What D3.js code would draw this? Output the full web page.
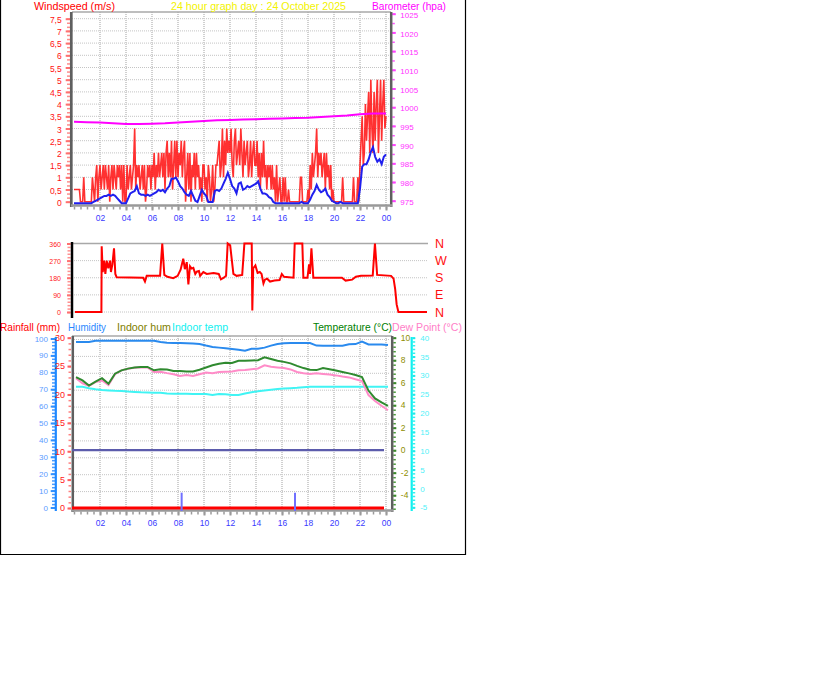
<!DOCTYPE html>
<html><head><meta charset="utf-8">
<script src="https://cdn.jsdelivr.net/npm/d3@7"></script>
<style>
body{margin:0;background:#fff;}
svg{display:block;}
</style></head><body>
<svg id="c" width="816" height="683"></svg>
<script>
// ---------------- DATA ----------------
const titleText = "24 hour graph day : 24 October 2025";
const hourTicks = [2,4,6,8,10,12,14,16,18,20,22,24];
const windTicks = [0,0.5,1,1.5,2,2.5,3,3.5,4,4.5,5,5.5,6,6.5,7,7.5];
const baroTicks = [975,980,985,990,995,1000,1005,1010,1015,1020,1025];
const dirTicks = [0,90,180,270,360];
const dirLabels = ["N","E","S","W","N"];
const rainTicks = [0,5,10,15,20,25,30];
const humTicks = [0,10,20,30,40,50,60,70,80,90,100];
const tempTicks = [-4,-2,0,2,4,6,8,10];
const indoorTicks = [-5,0,5,10,15,20,25,30,35,40];

// wind gust (m/s), every 5 minutes from 00:00 to 24:00 (one row per hour)
const gust = [
 0.5,0.5,0.5,0.5,0.5,0.5,0,0,0,1,0,0,
 0,0,0,0,0,1,0.5,0,1,1.5,0,1,
 1.5,0.5,1,1.5,0.5,1.5,1,0.5,1.5,0,1,1.5,
 0.5,1.5,1,0.5,1.5,1,1.5,0.5,1.5,0,1.5,0,
 0,1.5,0.5,1,1.5,0.5,1,1.5,3,0.5,1.5,1,
 1.5,0.5,1,1.5,0.5,1.5,0,0.5,1.5,1,1.5,0.5,
 1.5,1,2,0.5,1.5,1,2,1,1.5,2,1,2,
 0.5,2,2.5,1,2,1,2.5,0.5,1.5,2.5,1,2.5,
 1,2,1.5,2.5,1,2,2.5,0,1,2,0.5,2,
 0,1.5,1,2,0.5,2,1,1.5,0.5,1,0,1.5,
 1.5,0.5,1,0,1.5,1,0,0.5,1.5,0,0.5,1.5,
 1.5,2,2.5,1,1.5,3,1,2.5,1.5,3,2,2.5,
 2,3,1.5,1,2.5,3,1.5,2,2.5,1.5,3,2,
 1,2.5,1.5,2,2.5,1,1.5,2.5,1,2,2.5,1.5,
 1.5,2.5,1,2,0.5,2,1,2.5,1,1.5,0.5,1.5,
 1,1.5,0.5,1.5,0.5,1,0,1.5,0,0.5,1,0,
 0,1,0,1,0,0,0.5,0,0,0,0,0,
 0,0,0,0,0,1,1,0,0,0,0,0,
 0.5,0,1.5,0.5,2,1,1.5,2,3,1,2,1.5,
 2,1,1.5,2,0.5,2,1,1.5,0.5,1.5,0,0.5,
 0,0,0,0,0,0,0,0,1,0,0,0,
 0,0,0,0,0,0,1,0,0,0,1,0,
 1.5,2.5,3.5,1.5,2,4,2.5,3.5,4.5,2,5,3,
 2,4.5,2.5,4,5,2,3.5,5,2.5,4,5,3,
 3.5];
// average wind (m/s), every 10 minutes
const avgWind = [
 0,0,0,0,0,0,            0,0,0,0.05,0.1,0.15,  0.2,0.25,0.3,0.3,0.35,0.3, 0.35,0.3,0.2,0.1,0,0,
 0,0.2,0.4,0.45,0.5,0.7, 0.4,0.35,0.35,0.3,0.35,0.3, 0.35,0.4,0.45,0.55,0.5,0.55, 0.45,0.6,0.7,1.0,1.0,1.05,
 0.9,0.7,0.6,0.45,0.35,0.3, 0.5,0.3,0.1,0.05,0.3,0.55, 0.4,0.3,0.05,0.05,0.05,0.5, 0.55,0.5,0.6,0.8,1.0,1.25,
 1.0,0.7,0.6,0.4,0.8,0.85, 0.55,0.6,0.7,0.65,0.7,0.75, 0.8,0.9,0.6,0.4,0.4,0.35, 0.25,0.2,0.05,0,0,0,
 0,0,0,0,0,0,            0,0,0,0.05,0,0,       0,0.15,0.35,0.5,0.75,0.55, 0.45,0.5,0.6,0.35,0.25,0.1,
 0.05,0,0,0.05,0,0,      0,0,0,0,0,0,          0.6,1.5,1.6,1.6,1.8,2.1, 2.3,1.9,1.7,1.8,1.6,1.9,
 2.0];
// barometer (hPa), hourly
const baro = [996.1,996.0,995.9,995.7,995.5,995.5,995.6,995.7,995.9,996.1,996.3,996.5,996.6,
              996.7,996.8,996.9,997.0,997.1,997.2,997.4,997.6,997.8,998.1,998.3,998.3];

// wind direction (degrees) at given hours
const dirHours = [0,1.80,1.82,1.89,1.98,2.07,2.16,2.27,2.39,2.45,2.55,2.66,2.75,2.84,4.65,4.77,4.89,5.8,5.95,6.09,
  6.3,6.7,7.0,7.2,7.38,7.49,7.62,7.73,7.84,7.95,8.07,8.2,8.3,8.45,8.53,8.75,8.98,9.45,9.8,9.95,
  10.15,10.3,10.41,10.58,10.8,11.02,11.4,11.55,12.05,12.09,12.15,12.3,12.45,12.6,12.72,12.85,12.95,13.1,13.3,13.6,
  13.95,14.1,14.25,14.9,14.98,15.5,15.57,15.85,15.96,16.02,16.12,16.25,18.2,18.45,18.9,19.15,19.5,20.3,20.45,20.6,
  21.55,21.72,21.83,21.93,22.05,24];
const dirValues = [0,0,345,210,270,200,270,230,270,210,250,335,200,182,180,160,190,190,360,195,
  185,178,190,222,280,225,262,145,240,228,232,200,212,215,190,210,200,205,200,172,
  180,190,360,350,200,190,195,360,360,8,230,245,205,210,200,150,170,175,160,165,
  168,200,185,180,360,360,180,180,250,200,335,180,180,165,170,185,190,192,360,195,
  190,175,120,40,0,0];

// half-hourly outdoor series
const temperature = [6.5,6.2,5.75,6.1,6.4,5.9,6.8,7.1,7.25,7.35,7.4,7.4,7.1,7.2,7.18,7.05,7.03,7.0,7.0,7.15,
  7.35,7.55,7.68,7.78,7.75,7.95,7.95,7.97,8.0,8.25,8.1,7.95,7.85,7.72,7.5,7.3,7.15,7.12,7.3,7.2,
  7.08,6.95,6.83,6.68,6.5,5.3,4.6,4.25,3.95];
const dewPoint = [6.4,5.95,5.72,6.05,6.2,5.8,6.75,7.1,7.25,7.33,7.38,7.35,6.95,6.97,6.85,6.75,6.6,6.68,6.6,6.75,
  6.9,6.85,6.95,6.97,7.0,7.1,7.12,7.2,7.27,7.55,7.42,7.36,7.3,7.18,6.95,6.85,6.78,6.83,6.78,6.72,
  6.65,6.55,6.47,6.3,6.15,4.9,4.37,3.95,3.55];
const humidity = [98.0,98.0,98.0,98.6,98.6,98.6,98.6,98.6,98.6,98.6,98.6,98.6,98.6,97.9,97.5,97.3,97.3,97.2,97.0,96.7,
  95.8,95.0,94.6,94.2,93.8,93.4,92.8,93.9,94.0,94.6,95.8,96.8,97.2,97.3,97.3,97.3,97.3,95.8,95.7,95.7,
  95.7,95.7,96.6,96.7,98.2,96.5,96.5,96.5,96.1];
const indoorTemp = [27.0,27.0,26.6,26.3,26.1,26.0,25.9,25.85,25.7,25.6,25.5,25.45,25.4,25.4,25.2,25.15,25.1,25.1,25.05,25.05,
  25.05,24.8,25.05,25.0,24.8,24.8,25.2,25.5,25.8,26.0,26.2,26.4,26.5,26.6,26.7,26.85,27.0,27.0,27.0,27.0,
  27.0,27.0,27.0,27.0,27.0,27.0,27.0,27.0,27.0];
const rainTotalHours = [0,24];
const rainTotal = [0,0];
const rainRateHours = [8.28,17.0];
const rainRate = [2.7,2.7];
const freezeHours = [0,24];
const freezeLevel = [0,0];

// ---------------- DRAW ----------------
const FONT = '"Liberation Sans", Arial, Helvetica, sans-serif';
const svg = d3.select("#c").attr("font-family", FONT);
svg.append("rect").attr("width",816).attr("height",683).attr("fill","#fff");

const xT = d3.scaleLinear().domain([0,24]).range([74,386]);
const yW = d3.scaleLinear().domain([0,7.5]).range([201.7,18.7]);
const yB = d3.scaleLinear().domain([975,1025]).range([200.7,13.7]);
const xD = d3.scaleLinear().domain([0,24]).range([75,427]);
const yD = d3.scaleLinear().domain([0,360]).range([312,243.5]);
const yH = d3.scaleLinear().domain([0,100]).range([507.5,338.5]);
const yR = d3.scaleLinear().domain([0,30]).range([508,337.7]);
const yTc = d3.scaleLinear().domain([0,10]).range([450.2,337.7]);
const yI = d3.scaleLinear().domain([-5,40]).range([507.3,337.7]);

// chart frame
svg.append("path").attr("d","M0.5,0 V554.5 H465.5 V0").attr("fill","none").attr("stroke","#000").attr("stroke-width",1.2);

function hline(y, x0, x1, color, w, dash){
  svg.append("line").attr("x1",x0).attr("x2",x1).attr("y1",y).attr("y2",y)
    .attr("stroke",color).attr("stroke-width",w).attr("stroke-dasharray",dash||null);
}
function vline(x, y0, y1, color, w, dash){
  svg.append("line").attr("x1",x).attr("x2",x).attr("y1",y0).attr("y2",y1)
    .attr("stroke",color).attr("stroke-width",w).attr("stroke-dasharray",dash||null);
}
function axisG(axis, tx, ty, o){
  const g = svg.append("g").attr("transform",`translate(${tx},${ty})`).call(axis);
  g.attr("font-family", FONT).attr("font-size", o.size||8);
  g.select(".domain").remove();
  g.selectAll(".tick line").attr("stroke", o.tick).attr("stroke-width", o.tw||2);
  g.selectAll(".tick text").attr("fill", o.text||"none");
  if (o.dy) g.selectAll(".tick text").attr("dy", o.dy);
  return g;
}
function minorTicks(scale, vals, orient, tx, ty, size, color, tw){
  const a = (orient==="left"?d3.axisLeft(scale):orient==="right"?d3.axisRight(scale):d3.axisBottom(scale))
    .tickValues(vals).tickSize(size).tickFormat("");
  axisG(a, tx, ty, {tick:color, tw:tw||1.5});
}
const fmtHour = d => String(d % 24).padStart(2,"0");
const fmtPlain = d => String(d);

// ===== TOP PANEL (wind + barometer) =====
windTicks.filter(d=>d>0).forEach(v => hline(yW(v), 72, 390, "#c4c4c4", 1, "1,1"));
hourTicks.forEach(h => vline(xT(h), 12, 205, "#d0d0d0", 2, "1,1"));
hline(12, 72, 391, "#a8a8a8", 1.5);

// left wind axis
minorTicks(yW, d3.range(0,7.6,0.5/3), "left", 70, 0, 3, "#ff8c8c", 1.5);
axisG(d3.axisLeft(yW).tickValues(windTicks).tickSize(4.3).tickPadding(4)
  .tickFormat(d => String(d).replace(".", ",")), 70, 0, {tick:"#ff7070", text:"#ff1010", size:8.5, dy:"0.42em"});
vline(71.3, 12, 207, "#5f5f5f", 2.7);
// right barometer axis
minorTicks(yB, d3.range(975,1025.1,2.5), "right", 392.3, 0, 2.5, "#ff55ff", 1.5);
axisG(d3.axisRight(yB).tickValues(baroTicks).tickSize(3.5).tickPadding(4.5).tickFormat(fmtPlain), 392.3, 0,
  {tick:"#ff40ff", text:"#ff30ff", size:8, dy:"0.45em"});
vline(391.2, 12, 207, "#5f5f5f", 2.5);
// bottom axis
minorTicks(xT, d3.range(0,24.01,0.5), "bottom", 0, 206.5, 3, "#9a9a9a", 1.5);
axisG(d3.axisBottom(xT).tickValues(hourTicks).tickSize(4).tickPadding(4).tickFormat(fmtHour), 0, 206.5,
  {tick:"#9a9a9a", text:"#3a3aff", size:8.5});
hline(205.5, 71, 392, "#999", 2.5);

const fiveMin = (d,i) => i/12;
const tenMin = (d,i) => i/6;
svg.append("path").datum(gust)
  .attr("d", d3.line().x((d,i)=>xT(fiveMin(d,i))).y(d=>yW(d)))
  .attr("fill","none").attr("stroke","#ff1414").attr("stroke-width",1.6).attr("stroke-opacity",0.88);
svg.append("path").datum(baro)
  .attr("d", d3.line().x((d,i)=>xT(i)).y(d=>yB(d)))
  .attr("fill","none").attr("stroke","#ff00ff").attr("stroke-width",2);
svg.append("path").datum(avgWind)
  .attr("d", d3.line().x((d,i)=>xT(tenMin(d,i))).y(d=>yW(d)+1.5))
  .attr("fill","none").attr("stroke","#2020ee").attr("stroke-width",2);

// titles (widths fitted to the reference)
function label(t, x, y, color, width){
  svg.append("text").attr("x",x).attr("y",y).attr("fill",color).attr("font-size",11)
    .attr("textLength", width).attr("lengthAdjust","spacingAndGlyphs").text(t);
}
label("Windspeed (m/s)", 34, 10, "#ff0000", 81);
label(titleText, 171, 10, "#f2f200", 175);
label("Barometer (hpa)", 372, 10, "#ff00ff", 74);

// ===== DIRECTION PANEL =====
dirTicks.forEach((v,i) => hline(yD(v), 72, 428, i===4 ? "#a8a8a8" : "#c4c4c4", i===4?1.5:1, i===4?null:"1,1"));
minorTicks(yD, d3.range(0,361,18), "left", 70.5, 0, 3, "#ff9090", 1.5);
axisG(d3.axisLeft(yD).tickValues(dirTicks).tickSize(3.5).tickPadding(6), 70.5, 0, {tick:"#ff7070", text:"#ff2020", size:7, dy:"0.4em"});
vline(72, 242, 318, "#000", 2.5);
svg.append("path").datum(dirValues)
  .attr("d", d3.line().x((d,i)=>xD(dirHours[i])).y(d=>yD(d)))
  .attr("fill","none").attr("stroke","#ff0000").attr("stroke-width",2);
svg.selectAll(null).data(dirTicks).enter().append("text")
  .attr("x",435).attr("y",d=>yD(d)).attr("dy","0.36em").attr("fill","#ff1010").attr("font-size",12.5)
  .text((d,i)=>dirLabels[i]);

// ===== BOTTOM PANEL =====
humTicks.filter(d=>d>0).forEach(v => hline(yH(v)+1, 72, 390, "#c4c4c4", 1, "1,1"));
hourTicks.forEach(h => vline(xT(h), 336, 510, "#d0d0d0", 2, "1,1"));
hline(336, 72, 392, "#a8a8a8", 1.5);

// humidity axis (blue)
minorTicks(yH, d3.range(0,100.1,2), "left", 55, 0, 3, "#4a9cff", 1.5);
axisG(d3.axisLeft(yH).tickValues(humTicks).tickSize(4.3).tickPadding(2.7), 55, 0, {tick:"#3090ff", text:"#5b9bff", size:8});
vline(55.8, 337, 511, "#1e88ff", 2.2);
// rainfall axis (red)
minorTicks(yR, d3.range(0,30.1,1), "left", 71, 0, 2.5, "#ff8080", 1.5);
axisG(d3.axisLeft(yR).tickValues(rainTicks).tickSize(3.5).tickPadding(2.5), 71, 0, {tick:"#ff6060", text:"#ff1a1a", size:9});
vline(72.8, 336, 512, "#5f5f5f", 2.5);
// temperature axis (right, olive)
minorTicks(yTc, d3.range(-5.2,10.01,0.4), "right", 393.3, 0, 2.5, "#4a9a3a", 1.5);
axisG(d3.axisRight(yTc).tickValues(tempTicks).tickSize(3).tickPadding(4.5).tickFormat(fmtPlain), 393.3, 0,
  {tick:"#3a8a2a", text:"#8e8e00", size:8.5});
vline(392.2, 336, 512, "#5f5f5f", 2.5);
// indoor temp axis (cyan)
minorTicks(yI, d3.range(-5,40.1,1), "right", 412.7, 0, 2.5, "#30f0f0", 1.5);
axisG(d3.axisRight(yI).tickValues(indoorTicks).tickSize(2.5).tickPadding(5).tickFormat(fmtPlain), 412.7, 0,
  {tick:"#20e8e8", text:"#50f0f8", size:8});
vline(411.7, 337, 511, "#10f0f0", 2.2);
// x axis
minorTicks(xT, d3.range(0,24.01,0.5), "bottom", 0, 511.5, 3, "#9a9a9a", 1.5);
axisG(d3.axisBottom(xT).tickValues(hourTicks).tickSize(4).tickPadding(4).tickFormat(fmtHour), 0, 511.5,
  {tick:"#9a9a9a", text:"#3a3aff", size:8.5});
hline(510.5, 71, 393, "#999", 2.5);

const half = (d,i) => i/2;
svg.append("path").datum(freezeLevel)
  .attr("d", d3.line().x((d,i)=>xT(freezeHours[i])-2).y(d=>yTc(d)))
  .attr("fill","none").attr("stroke","#5c5cac").attr("stroke-width",2.2);
svg.append("path").datum(rainTotal)
  .attr("d", d3.line().x((d,i)=>xT(rainTotalHours[i])-2).y(d=>yR(d)))
  .attr("fill","none").attr("stroke","#ff0000").attr("stroke-width",3);
svg.selectAll(null).data(rainRate).enter().append("line")
  .attr("x1",(d,i)=>xT(rainRateHours[i])).attr("x2",(d,i)=>xT(rainRateHours[i]))
  .attr("y1",d=>yR(d)).attr("y2",yR(0)+3)
  .attr("stroke","#7070ff").attr("stroke-width",2);
svg.append("path").datum(indoorTemp)
  .attr("d", d3.line().x((d,i)=>xT(half(d,i))+2).y(d=>yI(d)))
  .attr("fill","none").attr("stroke","#40f4f4").attr("stroke-width",2);
svg.append("path").datum(humidity)
  .attr("d", d3.line().x((d,i)=>xT(half(d,i))+2).y(d=>yH(d)))
  .attr("fill","none").attr("stroke","#2a8aee").attr("stroke-width",2);
svg.append("path").datum(dewPoint)
  .attr("d", d3.line().x((d,i)=>xT(half(d,i))+2).y(d=>yTc(d)))
  .attr("fill","none").attr("stroke","#ff8cc8").attr("stroke-width",2);
svg.append("path").datum(temperature)
  .attr("d", d3.line().x((d,i)=>xT(half(d,i))+2).y(d=>yTc(d)))
  .attr("fill","none").attr("stroke","#2f8a2f").attr("stroke-width",2);

label("Rainfall (mm)", 0, 331, "#ff0000", 60);
label("Humidity", 68, 331, "#2a88ff", 38);
label("Indoor hum", 117, 331, "#808000", 54);
label("Indoor temp", 172, 331, "#10f0f0", 56);
label("Temperature (°C)", 313, 331, "#008000", 79);
label("Dew Point (°C)", 392, 331, "#ff80c8", 70);
</script>
</body></html>
